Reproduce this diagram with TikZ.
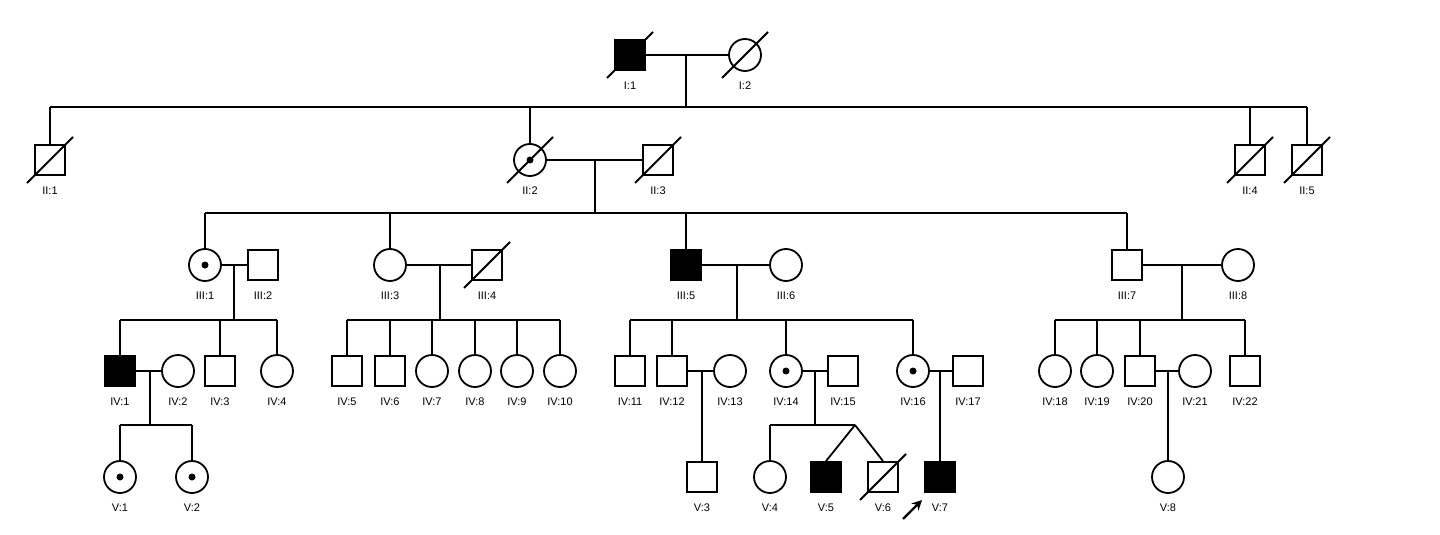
\documentclass[tikz,border=0pt]{standalone}
\usepackage{fontspec}
\setmainfont{Liberation Sans}
\usetikzlibrary{arrows.meta}
\tikzset{x=1pt,y=-1pt,
 ind/.style={draw,line width=1.8pt,inner sep=0pt,fill=white},
 male/.style={ind,rectangle,minimum size=30pt},
 female/.style={ind,circle,minimum size=32pt},
 aff/.style={fill=black},
 lab/.style={font=\fontsize{11}{11}\selectfont,inner sep=0pt},
 ln/.style={line width=1.8pt}}
\newcommand\Ind[5]{\node[#4] (#1) at (#2,#3) {}; \node[lab] (#1l) at (#2,#3+31) {#5};}
\newcommand\Dot[1]{\fill (#1) circle (3.5pt);}
\newcommand\Dead[1]{\draw[ln] ([shift={(-23,23)}]#1.center) -- ([shift={(23,-23)}]#1.center);}
\newcommand\Drop[2]{\draw[ln] (#1.north) -- (#1.north |- #2);}
\begin{document}
\begin{tikzpicture}
\fill[white] (0,0) rectangle (1440,535);
\useasboundingbox (0,0) rectangle (1440,535);
% Generation I
\Ind{I1}{630}{55}{male,aff}{I:1}
\Ind{I2}{745}{55}{female}{I:2}
\Dead{I1}\Dead{I2}
\draw[ln] (I1) -- (I2);
\coordinate (d1) at (686,55);
\coordinate (s1) at (686,107);
\draw[ln] (d1) -- (s1);
% Generation II
\Ind{II1}{50}{160}{male}{II:1}
\Ind{II2}{530}{160}{female}{II:2}
\Ind{II3}{658}{160}{male}{II:3}
\Ind{II4}{1250}{160}{male}{II:4}
\Ind{II5}{1307}{160}{male}{II:5}
\Dot{II2}\Dead{II1}\Dead{II2}\Dead{II3}\Dead{II4}\Dead{II5}
\draw[ln] (II1.north |- s1) -- (II5.north |- s1);
\Drop{II1}{s1}\Drop{II2}{s1}\Drop{II4}{s1}\Drop{II5}{s1}
\draw[ln] (II2) -- (II3);
\coordinate (d2) at (595,160);
\coordinate (s2) at (595,213);
\draw[ln] (d2) -- (s2);
% Generation III
\Ind{III1}{205}{265}{female}{III:1}
\Ind{III2}{263}{265}{male}{III:2}
\Ind{III3}{390}{265}{female}{III:3}
\Ind{III4}{487}{265}{male}{III:4}
\Ind{III5}{686}{265}{male,aff}{III:5}
\Ind{III6}{786}{265}{female}{III:6}
\Ind{III7}{1127}{265}{male}{III:7}
\Ind{III8}{1238}{265}{female}{III:8}
\Dot{III1}\Dead{III4}
\draw[ln] (III1.north |- s2) -- (III7.north |- s2);
\Drop{III1}{s2}\Drop{III3}{s2}\Drop{III5}{s2}\Drop{III7}{s2}
\draw[ln] (III1) -- (III2);
\draw[ln] (III3) -- (III4);
\draw[ln] (III5) -- (III6);
\draw[ln] (III7) -- (III8);
\coordinate (s3a) at (234,320); \draw[ln] (234,265) -- (s3a);
\coordinate (s3b) at (440,320); \draw[ln] (440,265) -- (s3b);
\coordinate (s3c) at (737,320); \draw[ln] (737,265) -- (s3c);
\coordinate (s3d) at (1182,320); \draw[ln] (1182,265) -- (s3d);
% Generation IV
\Ind{IV1}{120}{371}{male,aff}{IV:1}
\Ind{IV2}{178}{371}{female}{IV:2}
\Ind{IV3}{220}{371}{male}{IV:3}
\Ind{IV4}{277}{371}{female}{IV:4}
\Ind{IV5}{347}{371}{male}{IV:5}
\Ind{IV6}{390}{371}{male}{IV:6}
\Ind{IV7}{432}{371}{female}{IV:7}
\Ind{IV8}{475}{371}{female}{IV:8}
\Ind{IV9}{517}{371}{female}{IV:9}
\Ind{IV10}{560}{371}{female}{IV:10}
\Ind{IV11}{630}{371}{male}{IV:11}
\Ind{IV12}{672}{371}{male}{IV:12}
\Ind{IV13}{730}{371}{female}{IV:13}
\Ind{IV14}{786}{371}{female}{IV:14}
\Ind{IV15}{843}{371}{male}{IV:15}
\Ind{IV16}{913}{371}{female}{IV:16}
\Ind{IV17}{968}{371}{male}{IV:17}
\Ind{IV18}{1055}{371}{female}{IV:18}
\Ind{IV19}{1097}{371}{female}{IV:19}
\Ind{IV20}{1140}{371}{male}{IV:20}
\Ind{IV21}{1195}{371}{female}{IV:21}
\Ind{IV22}{1245}{371}{male}{IV:22}
\Dot{IV14}\Dot{IV16}
\draw[ln] (IV1.north |- s3a) -- (IV4.north |- s3a);
\Drop{IV1}{s3a}\Drop{IV3}{s3a}\Drop{IV4}{s3a}
\draw[ln] (IV5.north |- s3b) -- (IV10.north |- s3b);
\Drop{IV5}{s3b}\Drop{IV6}{s3b}\Drop{IV7}{s3b}\Drop{IV8}{s3b}\Drop{IV9}{s3b}\Drop{IV10}{s3b}
\draw[ln] (IV11.north |- s3c) -- (IV16.north |- s3c);
\Drop{IV11}{s3c}\Drop{IV12}{s3c}\Drop{IV14}{s3c}\Drop{IV16}{s3c}
\draw[ln] (IV18.north |- s3d) -- (IV22.north |- s3d);
\Drop{IV18}{s3d}\Drop{IV19}{s3d}\Drop{IV20}{s3d}\Drop{IV22}{s3d}
\draw[ln] (IV1) -- (IV2);
\draw[ln] (IV12) -- (IV13);
\draw[ln] (IV14) -- (IV15);
\draw[ln] (IV16) -- (IV17);
\draw[ln] (IV20) -- (IV21);
\coordinate (s4a) at (150,425); \draw[ln] (150,371) -- (s4a);
\coordinate (s4c) at (815,425); \draw[ln] (815,371) -- (s4c);
% Generation V
\Ind{V1}{120}{477}{female}{V:1}
\Ind{V2}{192}{477}{female}{V:2}
\Ind{V3}{702}{477}{male}{V:3}
\Ind{V4}{770}{477}{female}{V:4}
\Ind{V5}{826}{477}{male,aff}{V:5}
\Ind{V6}{883}{477}{male}{V:6}
\Ind{V7}{940}{477}{male,aff}{V:7}
\Ind{V8}{1168}{477}{female}{V:8}
\Dot{V1}\Dot{V2}\Dead{V6}
\draw[ln] (V1.north |- s4a) -- (V2.north |- s4a);
\Drop{V1}{s4a}\Drop{V2}{s4a}
\draw[ln] (702,371) -- (V3.north);
\coordinate (tw) at (855,425);
\draw[ln] (V4.north |- tw) -- (tw);
\Drop{V4}{tw}
\draw[ln] (tw) -- (V5.north);
\draw[ln] (tw) -- (V6.north);
\draw[ln] (940,371) -- (V7.north);
\draw[ln] (1168,371) -- (V8.north);
\coordinate (pa) at (903,519);
\coordinate (pb) at (922,500);
\draw[line width=2.4pt,-{Stealth[length=10pt,width=10pt]}] (pa) -- (pb);
\end{tikzpicture}
\end{document}
